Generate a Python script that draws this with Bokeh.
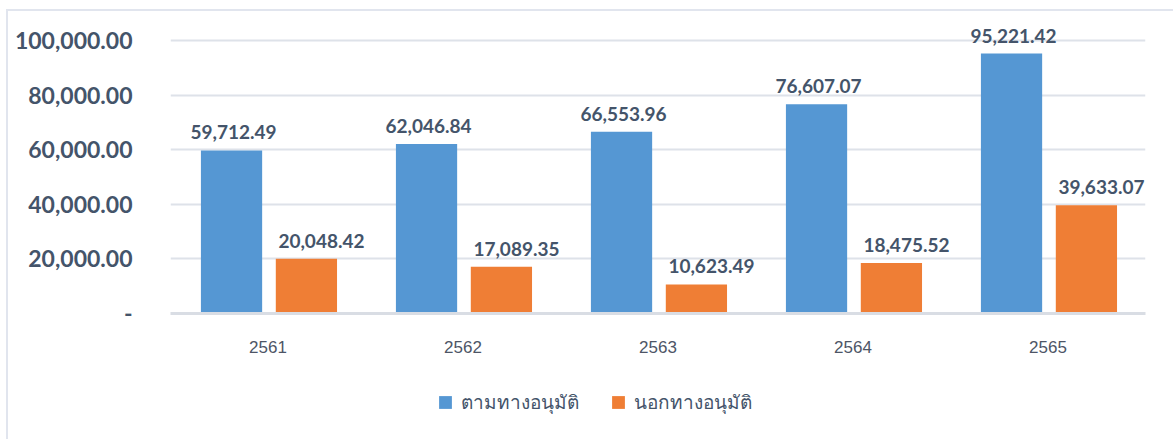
from bokeh.plotting import figure
from bokeh.layouts import column
from bokeh.models import (ColumnDataSource, FactorRange, Range1d, LabelSet, Legend,
                          LegendItem, FixedTicker)
from bokeh.core.properties import value
from bokeh.transform import dodge
from bokeh.embed import file_html
from bokeh.resources import INLINE

years = ["2561", "2562", "2563", "2564", "2565"]
in_plan = [59712.49, 62046.84, 66553.96, 76607.07, 95221.42]
out_plan = [20048.42, 17089.35, 10623.49, 18475.52, 39633.07]
series_names = ["ตามทางอนุมัติ", "นอกทางอนุมัติ"]
y_ticks = [0, 20000, 40000, 60000, 80000, 100000]
y_tick_labels = ["-", "20,000.00", "40,000.00", "60,000.00", "80,000.00", "100,000.00"]
colors = ["#5597D3", "#EF7E35"]

src = ColumnDataSource(dict(
    year=years,
    a=in_plan,
    b=out_plan,
    a_lbl=[f"{v:,.2f}" for v in in_plan],
    b_lbl=[f"{v:,.2f}" for v in out_plan],
))

TXT = "#44546A"
GRID = "#DEE2E9"
EDGE = "#E1E5EE"

p = figure(x_range=FactorRange(*years), y_range=Range1d(0, 110989),
           width=1173, height=370, output_backend="svg", toolbar_location=None,
           min_border_left=170, min_border_right=28, min_border_top=10,
           min_border_bottom=57)
p.outline_line_color = None
p.background_fill_color = None
p.border_fill_color = None

ra = p.vbar(x=dodge("year", -0.187, range=p.x_range), top="a", width=0.314,
            source=src, fill_color=colors[0], line_color=None)
rb = p.vbar(x=dodge("year", 0.197, range=p.x_range), top="b", width=0.314,
            source=src, fill_color=colors[1], line_color=None)

font = "Lato"
la = LabelSet(x=dodge("year", -0.177, range=p.x_range), y="a", text="a_lbl", source=src,
              text_align="center", text_baseline="alphabetic", y_offset=11,
              text_font=value(font), text_font_style="bold", text_font_size="19px",
              text_color=TXT)
lb = LabelSet(x=dodge("year", 0.274, range=p.x_range), y="b", text="b_lbl", source=src,
              text_align="center", text_baseline="alphabetic", y_offset=11,
              text_font=value(font), text_font_style="bold", text_font_size="19px",
              text_color=TXT)
p.add_layout(la)
p.add_layout(lb)

# y axis
p.yaxis.ticker = FixedTicker(ticks=y_ticks)
p.yaxis.major_label_overrides = {t: l for t, l in zip(y_ticks, y_tick_labels)}
p.yaxis.axis_line_color = None
p.yaxis.major_tick_line_color = None
p.yaxis.minor_tick_line_color = None
p.yaxis.major_label_standoff = 32
p.yaxis.major_label_text_font = font
p.yaxis.major_label_text_font_style = "bold"
p.yaxis.major_label_text_font_size = "23px"
p.yaxis.major_label_text_color = TXT

p.ygrid.ticker = FixedTicker(ticks=y_ticks[1:])
p.ygrid.grid_line_color = GRID
p.ygrid.grid_line_width = 2
p.xgrid.grid_line_color = None

# x axis
p.xaxis.axis_line_color = "#D9DDE4"
p.xaxis.axis_line_width = 3
p.xaxis.major_tick_line_color = None
p.xaxis.minor_tick_line_color = None
p.xaxis.major_label_standoff = 21
p.xaxis.major_label_text_font = "Liberation Sans"
p.xaxis.major_label_text_font_size = "17px"
p.xaxis.major_label_text_color = "#4D5566"

# legend strip (legend-only renderers with zero height)
lf = figure(width=1173, height=69, output_backend="svg", toolbar_location=None,
            min_border=0, x_range=Range1d(0, 1), y_range=Range1d(0, 1))
lf.axis.visible = False
lf.grid.visible = False
lf.outline_line_color = None
lf.background_fill_color = None
lf.border_fill_color = None
lr_a = lf.vbar(x=[-5], top=[0], width=0.1, fill_color=colors[0], line_color=None)
lr_b = lf.vbar(x=[-5], top=[0], width=0.1, fill_color=colors[1], line_color=None)
legend = Legend(items=[LegendItem(label=series_names[0], renderers=[lr_a]),
                       LegendItem(label=series_names[1], renderers=[lr_b])],
                orientation="horizontal", location=(267, 22),
                label_text_font="Noto Sans", label_text_font_size="19px",
                label_text_color=TXT, glyph_width=16, glyph_height=16,
                label_standoff=8, spacing=31, border_line_color=None,
                background_fill_alpha=0, margin=0, padding=0)
lf.add_layout(legend, "center")

layout = column(p, lf, spacing=0)
layout.styles = {
    "background": (f"linear-gradient({EDGE},{EDGE}) 6px 9px / 2px 100% no-repeat, "
                   f"linear-gradient({EDGE},{EDGE}) 6px 9px / 100% 2px no-repeat, white"),
}
open("out.html", "w").write(file_html(layout, INLINE))
